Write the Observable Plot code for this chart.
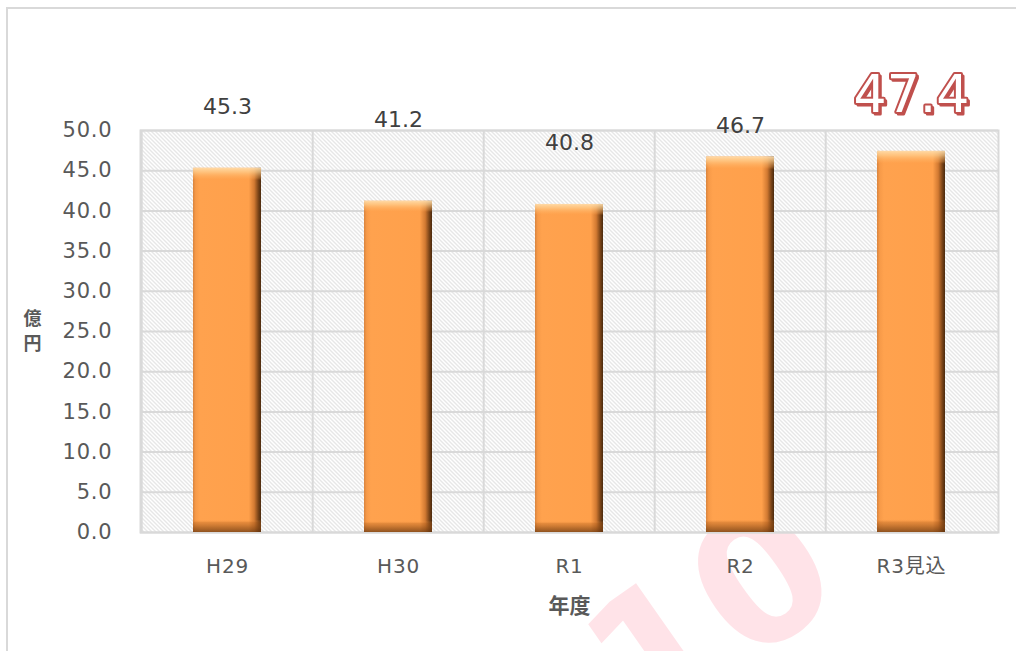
<!DOCTYPE html>
<html><head><meta charset="utf-8">
<script src="https://cdn.jsdelivr.net/npm/d3@7"></script>
<script src="https://cdn.jsdelivr.net/npm/@observablehq/plot@0.6"></script>
<style>
body{margin:0;background:#fff;overflow:hidden;width:1016px;height:651px;position:relative}
#border{position:absolute;left:6px;top:7px;width:1100px;height:800px;border:2px solid #d9d9d9;box-sizing:border-box}
#chart{position:absolute;left:0;top:0}
#chart g[aria-label="y-axis tick label"] text, #chart g[aria-label="x-axis tick label"] text {letter-spacing:0.8px}
</style></head><body>
<div id="border"></div><div id="chart"></div>
<script>
const categories = ["H29", "H30", "R1", "R2", "R3見込"];
const values = [45.3, 41.2, 40.8, 46.7, 47.4];
const yTicks = [0, 5, 10, 15, 20, 25, 30, 35, 40, 45, 50];
const xTitle = "年度";
const yTitleChars = ["億", "円"];
const watermark = "10";

const data = categories.map((c, i) => ({cat: c, value: values[i]}));
// label vertical offsets (px, style only)
const labelDy = [-61, -81, -62, -31, -56];

const W = 1016, H = 651, ML = 140, MR = 18, MT = 130, MB = 119;
const step = (W - ML - MR) / categories.length;
const font = "'DejaVu Sans', 'Noto Sans CJK JP', sans-serif";

const normalLabels = data.slice(0, 4).map((d, i) =>
  Plot.text([d], {x: "cat", y: "value", text: d => d.value.toFixed(1), dy: labelDy[i],
    lineAnchor: "middle", fontSize: 22, fill: "#404040", fontFamily: font}));
const last = data[4];

const yTitleMarks = yTitleChars.map((ch, i) =>
  Plot.text([ch], {frameAnchor: "left", textAnchor: "middle", dx: -108, dy: -12 + 25 * i,
    fontSize: 18, fontWeight: "bold", fill: "#595959", fontFamily: "'Noto Sans CJK JP'"}));

const chart = Plot.plot({
  width: W, height: H,
  marginLeft: ML, marginRight: MR, marginTop: MT, marginBottom: MB,
  style: {fontFamily: font, color: "#595959", background: "transparent", overflow: "visible"},
  x: {domain: categories, paddingInner: 0.6, paddingOuter: 0.3, label: null},
  y: {domain: [0, 50], label: null},
  marks: [
    Plot.text([watermark], {frameAnchor: "bottom-right", dx: -150, dy: 62, rotate: -35,
      fontSize: 180, fontWeight: "bold", fill: "#ffe3e8", fontFamily: "DejaVu Sans"}),
    Plot.frame({fill: "white"}),
    Plot.frame({fill: "url(#hatch)"}),
    Plot.ruleY(yTicks, {stroke: "#d9d9d9", strokeWidth: 2}),
    Plot.ruleX(categories, {x: d => d, dx: -step / 2, stroke: "#d9d9d9", strokeWidth: 2}),
    Plot.frame({stroke: "#d9d9d9", strokeWidth: 2}),
    Plot.barY(data, {x: "cat", y: "value", fill: "url(#barH)"}),
    Plot.barY(data, {x: "cat", y: "value", fill: "url(#barV)"}),
    Plot.axisY(yTicks, {tickSize: 0, tickPadding: 28, tickFormat: d => d.toFixed(1), fontSize: 21, label: null}),
    Plot.axisX({tickSize: 0, tickPadding: 26, fontSize: 20, label: null}),
    ...normalLabels,
    Plot.text([last], {x: "cat", y: "value", text: d => d.value.toFixed(1), dy: labelDy[4] + 2, dx: 2,
      lineAnchor: "middle", fontSize: 52, fill: "#c0504d", stroke: "#c0504d", strokeWidth: 3, fontFamily: "DejaVu Sans"}),
    Plot.text([last], {x: "cat", y: "value", text: d => d.value.toFixed(1), dy: labelDy[4],
      lineAnchor: "middle", fontSize: 52, fill: "white", stroke: "#c0504d", strokeWidth: 4, fontFamily: "DejaVu Sans"}),
    ...yTitleMarks,
    Plot.text([xTitle], {frameAnchor: "bottom", dy: 80, fontSize: 21, fontWeight: "bold",
      fill: "#595959", fontFamily: "'Noto Sans CJK JP'"})
  ]
});

const defs = d3.select(chart).insert("defs", ":first-child");
const pat = defs.append("pattern").attr("id", "hatch").attr("patternUnits", "userSpaceOnUse")
  .attr("width", 4).attr("height", 4);
pat.append("rect").attr("width", 4).attr("height", 4).attr("fill", "white");
pat.append("path").attr("d", "M0,0 L4,4 M-1,3 L1,5 M3,-1 L5,1")
  .attr("stroke", "#cfcfcf").attr("stroke-width", 1);

const gH = defs.append("linearGradient").attr("id", "barH").attr("x1", 0).attr("x2", 1).attr("y1", 0).attr("y2", 0);
[[0, "#d9843e"], [0.04, "#f79a48"], [0.1, "#ffa24e"], [0.82, "#ffa04b"], [0.9, "#d27a32"], [0.96, "#7a4418"], [1, "#4a2a0e"]]
  .forEach(([o, c]) => gH.append("stop").attr("offset", o).attr("stop-color", c));
const gV = defs.append("linearGradient").attr("id", "barV").attr("x1", 0).attr("x2", 0).attr("y1", 0).attr("y2", 1);
[[0, "#ffe0b0", 0.9], [0.012, "#ffd090", 0.7], [0.028, "#ffb060", 0.3], [0.034, "#ffa04b", 0],
 [0.966, "#ffa04b", 0], [0.974, "#b05e1c", 0.35], [0.988, "#8a4a16", 0.6], [1, "#6a3810", 0.75]]
  .forEach(([o, c, a]) => gV.append("stop").attr("offset", o).attr("stop-color", c).attr("stop-opacity", a));

document.getElementById("chart").appendChild(chart);
</script>
</body></html>
